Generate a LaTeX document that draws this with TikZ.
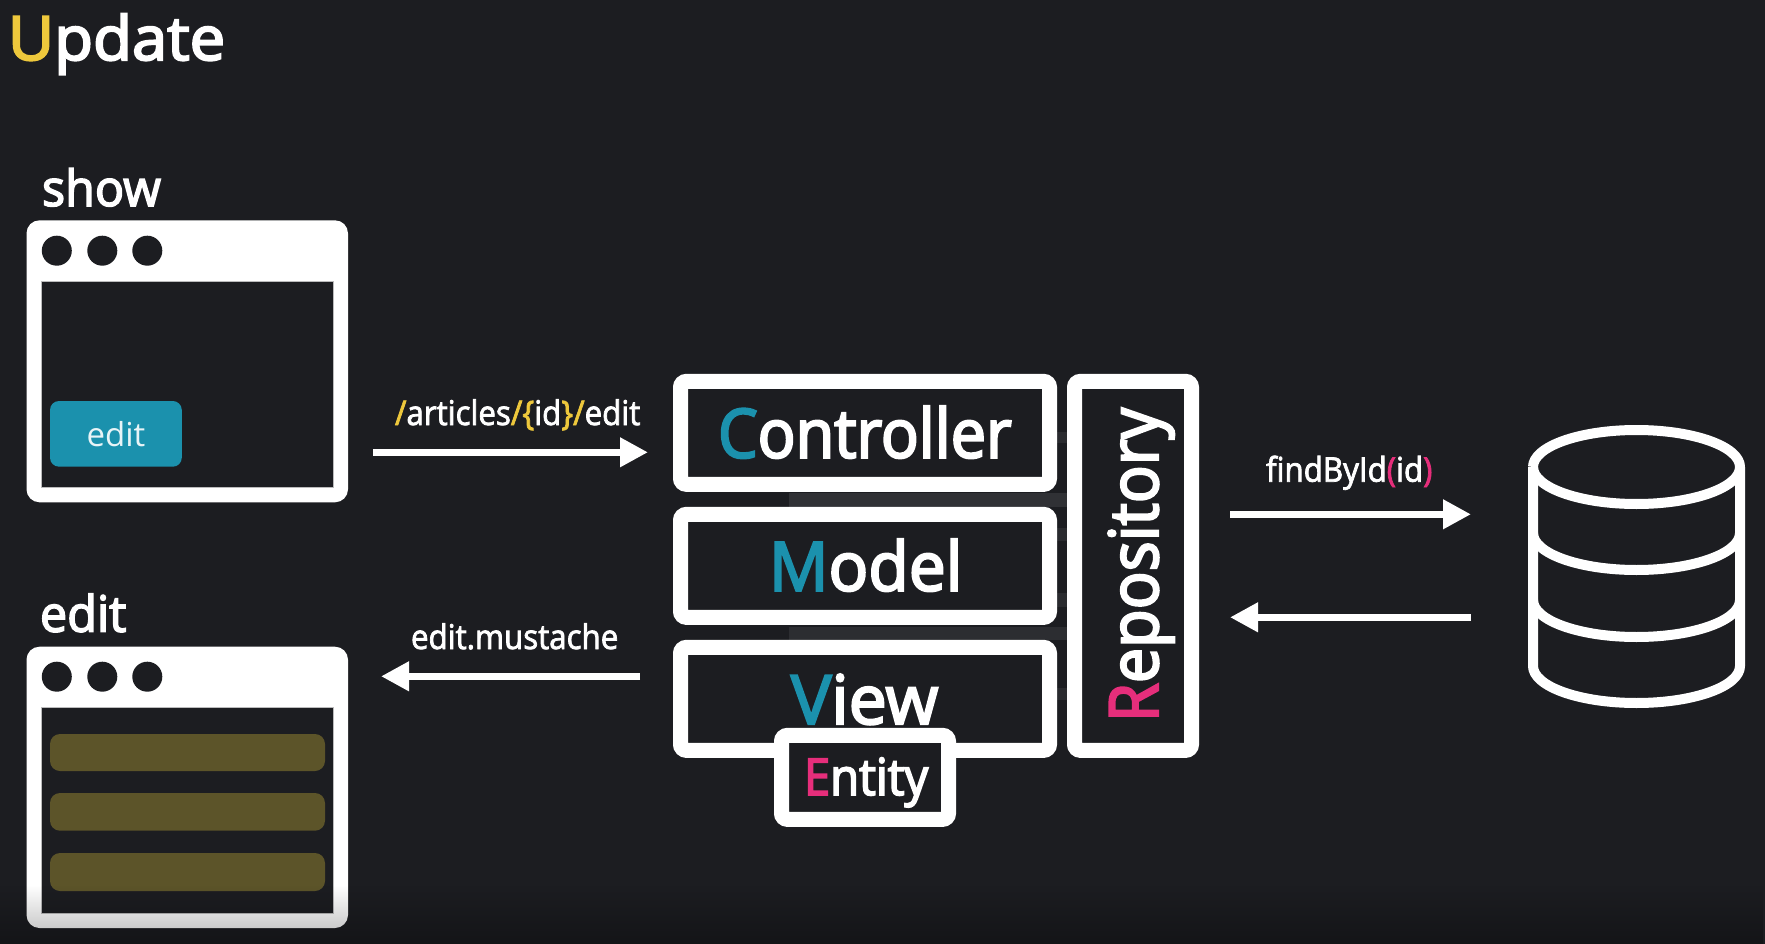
\documentclass[tikz,border=0pt]{standalone}
\usepackage{fontspec}
\setmainfont{Open Sans}
\newfontfamily\labelface[FakeStretch=0.92,FakeBold=2.2]{Open Sans}
\newfontfamily\narrowface[FakeStretch=0.925,FakeBold=3.2]{Open Sans}
\newfontfamily\modelface[FakeStretch=0.97,FakeBold=3.2]{Open Sans}
\newfontfamily\viewface[FakeStretch=1.0,FakeBold=3.2]{Open Sans}
\newfontfamily\headface[FakeStretch=0.97,FakeBold=3]{Open Sans}
\newfontfamily\titleface[FakeStretch=1.04,FakeBold=3.4]{Open Sans}
\usetikzlibrary{arrows.meta,fadings}
\definecolor{bgdark}{HTML}{1C1D21}
\definecolor{teal}{HTML}{1B91AD}
\definecolor{rose}{HTML}{E62E7B}
\definecolor{amber}{HTML}{EEC83C}
\definecolor{olive}{HTML}{5C5429}
\definecolor{ghost}{HTML}{303135}
\tikzfading[name=fadedown, top color=transparent!100, bottom color=transparent!72]
\newcommand{\fsz}[1]{\fontsize{#1}{#1}\selectfont}
\tikzset{
  word/.style={inner sep=0pt,outer sep=0pt,anchor=base west,text=white},
  framebox/.style={draw=white,line width=15pt,fill=bgdark,rounded corners=6pt,inner sep=0pt,outer sep=0pt},
  winbody/.style={fill=white,rounded corners=13pt,inner sep=0pt,outer sep=0pt},
  winpane/.style={fill=bgdark,draw=white!70!bgdark,line width=.6pt,inner sep=0pt,outer sep=0pt},
  windot/.style={circle,fill=bgdark,minimum size=30pt,inner sep=0pt,outer sep=0pt},
  field/.style={fill=olive,rounded corners=10pt,inner sep=0pt,outer sep=0pt},
  flow/.style={draw=white,line width=7pt,-{Triangle[length=28pt,width=28pt]}},
  dbline/.style={draw=white,line width=10pt,line join=round}
}
\begin{document}
\begin{tikzpicture}[x=1pt,y=-1pt]
\useasboundingbox (0,0) rectangle (1765,944);
\fill[bgdark] (0,0) rectangle (1765,944);

% Page title
\node[word] (title) at (8,60) {\titleface\fsz{61}\textcolor{amber}{U}pdate};

% Faint bands behind the layered boxes
\fill[ghost] (789,493) rectangle (1067,507);
\fill[ghost!80!bgdark] (789,627) rectangle (1067,640);
\foreach \ya/\yb in {432/443,528/541,593/607,688/700}
  \fill[ghost!70!bgdark] (1057,\ya) rectangle (1067,\yb);

% Browser window: show
\node[word] (showlabel) at (42,206) {\headface\fsz{50}show};
\node[winbody,minimum width=321.5pt,minimum height=282pt] (showwin) at (187.25,361.3) {};
\node[winpane,minimum width=292pt,minimum height=206.3pt] (showpane) at (187.5,384.15) {};
\node[windot] (showa) at (56.8,250.7) {};
\node[windot] (showb) at (102.3,250.7) {};
\node[windot] (showc) at (147.3,250.7) {};
\node[fill=teal,rounded corners=9pt,inner sep=0pt,outer sep=0pt,minimum width=131.8pt,minimum height=65.7pt,text=white!90!teal] (editbtn) at (115.9,433.85) {\fsz{33}edit};

% Browser window: edit
\node[word] (editlabel) at (40,631.7) {\headface\fsz{50}edit};
\node[winbody,minimum width=321.5pt,minimum height=281.3pt] (editwin) at (187.25,787.35) {};
\node[winpane,minimum width=292pt,minimum height=206pt] (editpane) at (187.5,810) {};
\node[windot] (edita) at (56.8,676.7) {};
\node[windot] (editb) at (102.3,676.7) {};
\node[windot] (editc) at (147.3,676.7) {};
\node[field,minimum width=275pt,minimum height=37pt] (fielda) at (187.5,752.5) {};
\node[field,minimum width=275pt,minimum height=37.7pt] (fieldb) at (187.5,811.85) {};
\node[field,minimum width=275pt,minimum height=38pt] (fieldc) at (187.5,872) {};

% Layer boxes
\node[framebox,minimum width=369pt,minimum height=103pt] (controller) at (865,432.85) {};
\node[framebox,minimum width=369pt,minimum height=103pt] (model) at (865,565.85) {};
\node[framebox,minimum width=369pt,minimum height=103pt] (view) at (865,698.85) {};
\node[framebox,minimum width=117pt,minimum height=369pt] (repository) at (1133,565.85) {};
\node[word] (controllertext) at (718,457.7) {\narrowface\fsz{68}\textcolor{teal}{C}ontroller};
\node[word] (modeltext) at (769,590.7) {\modelface\fsz{68}\textcolor{teal}{M}odel};
\node[word] (viewtext) at (791,724) {\viewface\fsz{68}\textcolor{teal}{V}iew};
\node[word,rotate=90] (repositorytext) at (1158,722) {\narrowface\fsz{68}\textcolor{rose}{R}epository};
\node[framebox,minimum width=167pt,minimum height=84pt] (entity) at (865,777.35) {};
\node[word] (entitytext) at (804,795) {\narrowface\fsz{51}\textcolor{rose}{E}ntity};

% Database cylinder
\coordinate (dbc) at (1636.5,467);
\path[dbline,fill=bgdark] (1533,467) arc[start angle=180,end angle=-180,x radius=103.5,y radius=37];
\draw[dbline] (1533,467) -- (1533,666) arc[start angle=180,end angle=360,x radius=103.5,y radius=-37] -- (1740,467);
\draw[dbline] (1533,533) arc[start angle=180,end angle=360,x radius=103.5,y radius=-37];
\draw[dbline] (1533,600) arc[start angle=180,end angle=360,x radius=103.5,y radius=-37];

% Request and response arrows
\coordinate (reqa) at (373,452.3);
\coordinate (reqb) at (648,452.3);
\coordinate (finda) at (1230,514.3);
\coordinate (findb) at (1471,514.3);
\coordinate (backa) at (1471,617.3);
\coordinate (backb) at (1230,617.3);
\coordinate (viewa) at (640,676.3);
\coordinate (viewb) at (381,676.3);
\draw[flow] (reqa) -- (reqb);
\draw[flow] (finda) -- (findb);
\draw[flow] (backa) -- (backb);
\draw[flow] (viewa) -- (viewb);
\node[word] (reqlabel) at (395,425) {\labelface\fsz{34}\textcolor{amber}{/}articles\textcolor{amber}{/\{}id\textcolor{amber}{\}/}edit};
\node[word] (findlabel) at (1266,481.7) {\labelface\fsz{34}findById\textcolor{rose}{(}id\textcolor{rose}{)}};
\node[word] (viewlabel) at (411,649) {\labelface\fsz{34}edit.mustache};

% Darkening toward the bottom edge
\fill[black,path fading=fadedown] (0,885) rectangle (1765,944);
\end{tikzpicture}
\end{document}
